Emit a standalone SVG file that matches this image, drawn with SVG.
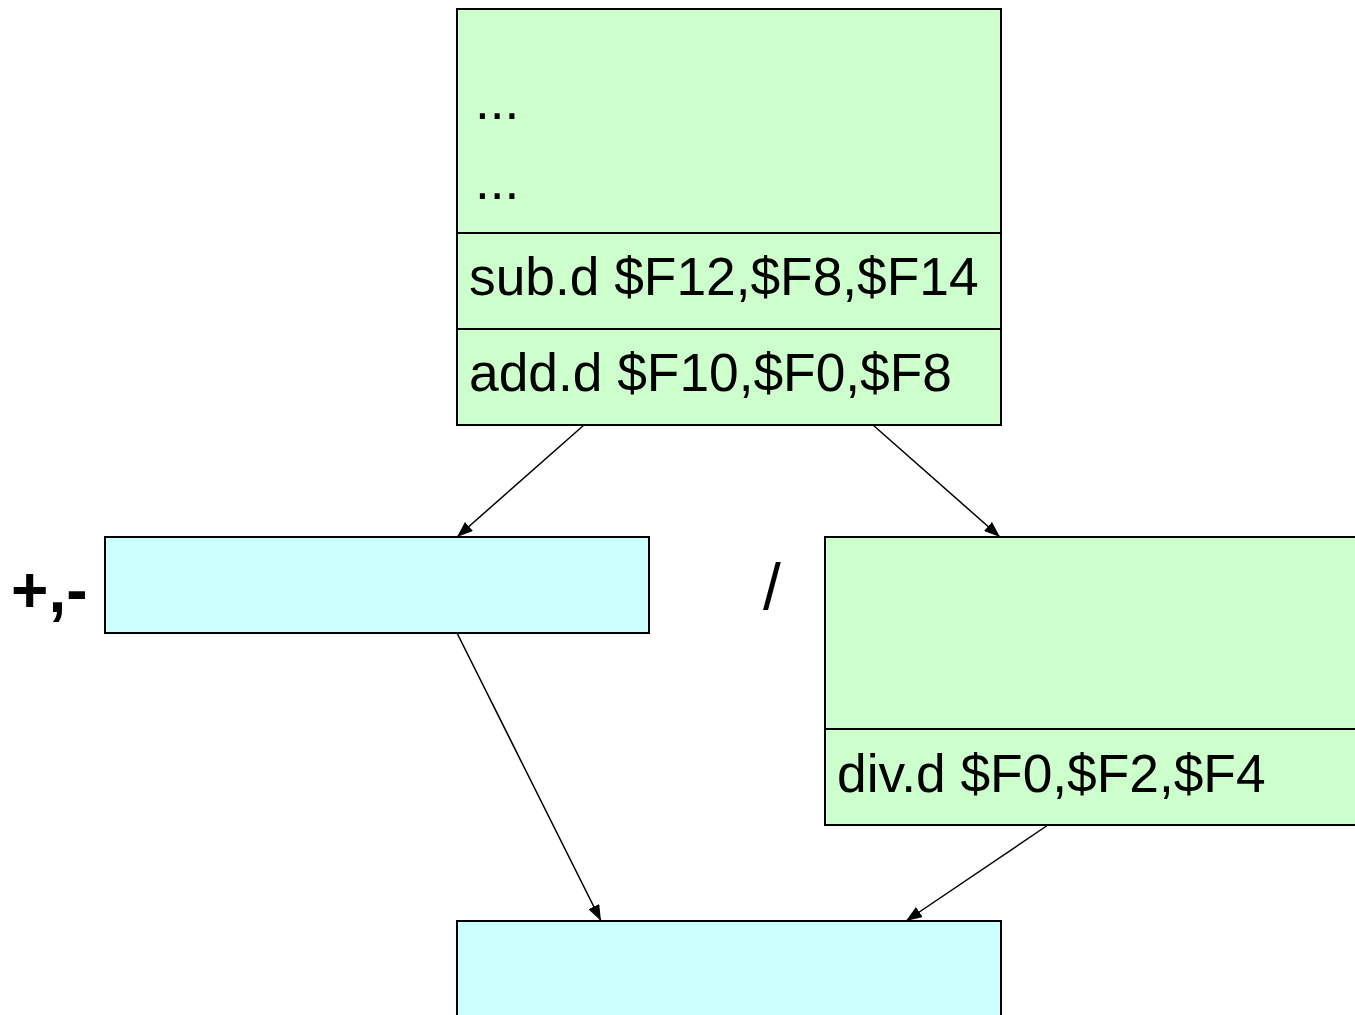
<svg xmlns="http://www.w3.org/2000/svg" width="1355" height="1015" viewBox="0 0 1355 1015">
<style>
.g{fill:#CCFFCC;stroke:#000;stroke-width:2}
.c{fill:#CCFFFF;stroke:#000;stroke-width:2}
.d{stroke:#000;stroke-width:2}
.t{font-family:"Liberation Sans",Arial,sans-serif;font-size:53.3px;fill:#000}
.l{font-size:64px}
.b{font-weight:bold}
.e{stroke:#000;stroke-width:1.5;fill:none;marker-end:url(#ah)}
</style>
<defs>
<marker id="ah" viewBox="0 0 16 12" refX="16" refY="6" markerWidth="16" markerHeight="12" markerUnits="userSpaceOnUse" orient="auto">
<path d="M0,0 L16,6 L0,12 z" fill="#000"/>
</marker>
</defs>
<rect width="1355" height="1015" fill="#fff"/>
<g id="connectors">
<line class="e" x1="584" y1="425" x2="457" y2="537"/>
<line class="e" x1="873" y1="425" x2="1000" y2="537"/>
<line class="e" x1="457" y1="633" x2="601" y2="921"/>
<line class="e" x1="1048" y1="825" x2="906" y2="921"/>
</g>
<g id="queue">
<rect class="g" x="457" y="9" width="544" height="416"/>
<line class="d" x1="457" y1="233" x2="1001" y2="233"/>
<line class="d" x1="457" y1="329" x2="1001" y2="329"/>
<text class="t" x="475" y="119">...</text>
<text class="t" x="475" y="199">...</text>
<text class="t" x="469" y="295">sub.d $F12,$F8,$F14</text>
<text class="t" x="469" y="391">add.d $F10,$F0,$F8</text>
</g>
<g id="addsub">
<rect class="c" x="105" y="537" width="544" height="96"/>
<text class="t l b" x="11" y="612">+,-</text>
</g>
<g id="div">
<rect class="g" x="825" y="537" width="540" height="288"/>
<line class="d" x1="825" y1="729" x2="1365" y2="729"/>
<text class="t" x="837" y="792">div.d $F0,$F2,$F4</text>
<text class="t l" x="763" y="609">/</text>
</g>
<g id="cdb">
<rect class="c" x="457" y="921" width="544" height="110"/>
</g>
</svg>
